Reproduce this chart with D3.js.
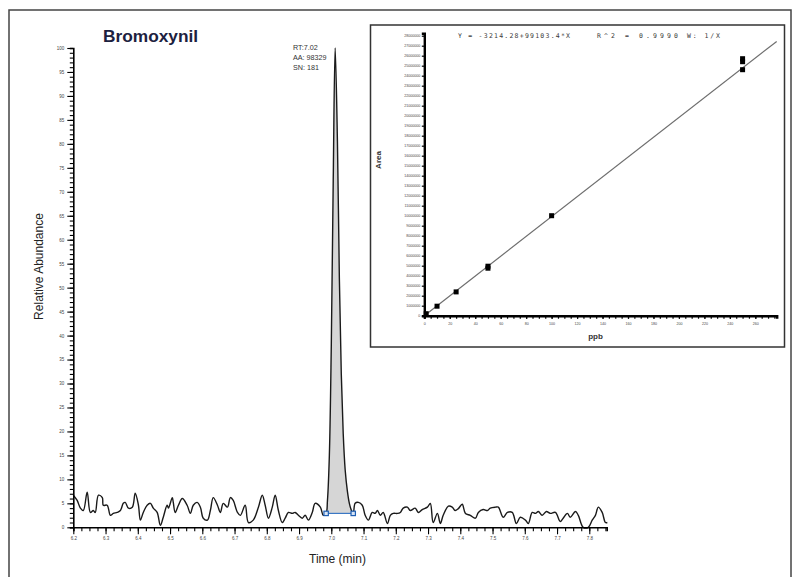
<!DOCTYPE html>
<html lang="en">
<head>
<meta charset="utf-8">
<title>Bromoxynil</title>
<script src="https://d3js.org/d3.v7.min.js"></script>
<style type="text/css">
body { margin: 0; background: #fff; }
svg  { display: block; font-family: "Liberation Sans", Arial, sans-serif; }
.tick text { fill: #444; }
</style>
</head>
<body>
<script type="text/javascript">

// chromatogram trace: retention time (min) and relative abundance (%)
var times = [
6.200,6.212,6.222,6.231,6.243,6.253,6.262,6.268,6.278,6.290,6.293,6.305,6.315,6.324,6.336,6.346,
6.355,6.361,6.371,6.383,6.392,6.402,6.408,6.417,6.429,6.439,6.448,6.460,6.470,6.479,6.491,6.495,
6.507,6.510,6.516,6.526,6.538,6.553,6.563,6.572,6.584,6.594,6.603,6.616,6.625,6.634,6.647,6.656,
6.665,6.678,6.687,6.696,6.709,6.718,6.733,6.743,6.758,6.774,6.786,6.795,6.805,6.817,6.826,6.836,
6.848,6.857,6.867,6.879,6.888,6.898,6.910,6.919,6.929,6.941,6.950,6.966,6.975,6.984,
6.988,6.994,7.000,7.006,7.012,7.019,7.025,7.031,7.037,7.043,7.050,7.056,7.062,7.068,
7.074,7.084,7.096,7.105,7.115,7.127,7.136,7.143,7.152,7.161,7.174,7.183,7.192,7.205,7.214,7.223,
7.236,7.245,7.260,7.270,7.282,7.298,7.307,7.316,7.329,7.338,7.347,7.363,7.375,7.384,7.394,7.406,
7.416,7.431,7.447,7.456,7.471,7.484,7.493,7.509,7.518,7.533,7.546,7.561,7.574,7.586,7.602,7.611,
7.623,7.633,7.642,7.654,7.667,7.679,7.695,7.710,7.719,7.732,7.741,7.757,7.766,7.781,7.797,7.809,
7.819,7.828,7.840,7.850,7.856];
var abundance = [
6.7,5.6,4.0,3.5,7.3,3.1,3.5,3.1,6.7,6.2,4.6,4.6,2.5,2.9,3.1,3.5,
5.0,5.2,4.0,4.2,7.1,4.6,1.5,3.1,4.6,5.0,4.0,3.1,0.4,2.1,4.6,4.0,
6.2,5.2,3.1,4.6,6.0,4.6,2.9,4.6,5.2,4.2,1.9,1.5,3.5,6.2,4.6,3.1,
5.0,4.2,6.2,5.6,3.1,2.5,4.6,1.0,1.5,4.2,6.7,4.6,1.9,4.2,6.7,3.5,
1.0,1.9,3.1,2.9,3.1,2.5,1.9,2.5,1.5,3.1,5.0,4.2,2.5,2.9,
5.5,15.0,38.0,72.3,100,80.6,52.0,32.0,19.5,12.0,7.5,5.0,3.6,2.9,
5.0,5.2,4.6,2.5,1.5,3.1,2.9,3.5,2.5,3.1,0.8,2.5,2.9,2.9,3.1,4.0,
4.2,3.5,4.0,3.1,3.7,4.2,5.0,1.0,2.9,0.8,2.5,4.4,4.2,3.5,3.9,4.8,
2.9,2.5,1.9,3.1,3.7,3.5,4.0,4.2,4.2,2.1,3.1,3.1,0.8,2.1,1.5,0.8,
3.1,2.9,3.3,2.5,3.3,2.9,3.1,1.2,1.9,2.9,2.1,3.3,2.5,0.0,0.0,1.5,
2.5,4.2,3.1,1.0,1.0];

// integrated peak
var peakStart = 6.984, peakEnd = 7.068, peakBase = 2.9;
var peakLabels = ["RT:7.02", "AA: 98329", "SN: 181"];

// chromatogram tick values
var timeTicks = [6.2,6.3,6.4,6.5,6.6,6.7,6.8,6.9,7.0,7.1,7.2,7.3,7.4,7.5,7.6,7.7,7.8];
var abundTicks = [0,5,10,15,20,25,30,35,40,45,50,55,60,65,70,75,80,85,90,95,100];

// calibration inset
var calPpb  = [1.5, 10, 25, 50, 50, 100, 250, 250, 250];
var calArea = [200000, 950000, 2380000, 4950000, 4750000, 10000000, 25700000, 25400000, 24600000];
var fitIntercept = -3214.28, fitSlope = 99103.4;
var ppbTicks = [0,20,40,60,80,100,120,140,160,180,200,220,240,260];
var areaTicks = d3.range(0, 28000001, 1000000);

var svg = d3.select("body").append("svg")
    .attr("width", 794)
    .attr("height", 577);

// outer frame
svg.append("rect")
    .attr("x", 9).attr("y", 10).attr("width", 782).attr("height", 600)
    .attr("fill", "none").attr("stroke", "#444").attr("stroke-width", 1.5);

// ---------- chromatogram ----------
var x = d3.scaleLinear().domain([6.2, 7.854]).range([73.3, 606.7]);
var y = d3.scaleLinear().domain([0, 100]).range([527.3, 48]);

var trace = times.map(function(t, i) { return [t, abundance[i]]; });
var line = d3.line()
    .x(function(d) { return x(d[0]); })
    .y(function(d) { return Math.min(y(d[1]), y(0)); })
    .curve(d3.curveCatmullRom.alpha(0.5));

// peak shading
var peakPts = trace.filter(function(d) { return d[0] >= peakStart - 1e-6 && d[0] <= peakEnd + 1e-6; });
svg.append("path")
    .attr("d", line(peakPts) + "Z")
    .attr("fill", "#d6d6d6")
    .attr("stroke", "none");

svg.append("path")
    .attr("d", line(trace))
    .attr("fill", "none")
    .attr("stroke", "#1a1a1a")
    .attr("stroke-width", 1.4)
    .attr("stroke-linejoin", "round");

// peak baseline and markers
svg.append("line")
    .attr("x1", x(peakStart)).attr("y1", y(peakBase))
    .attr("x2", x(peakEnd)).attr("y2", y(peakBase))
    .attr("stroke", "#3b78c4").attr("stroke-width", 1.2);
svg.selectAll(".pk")
    .data([peakStart, peakEnd])
    .enter().append("rect")
    .attr("class", "pk")
    .attr("x", function(d) { return x(d) - 2.2; })
    .attr("y", y(peakBase) - 2.2)
    .attr("width", 4.4).attr("height", 4.4)
    .attr("fill", "#d7e4f5").attr("stroke", "#1f5fb3").attr("stroke-width", 1.2);

svg.selectAll(".pklabel")
    .data(peakLabels)
    .enter().append("text")
    .attr("class", "pklabel")
    .attr("x", 293)
    .attr("y", function(d, i) { return 49.5 + i * 10; })
    .attr("font-size", 7.2)
    .attr("fill", "#333")
    .text(function(d) { return d; });

// axes
var xMinor = d3.axisBottom(x).tickValues(d3.range(0, 67).map(function(i) { return 6.2 + i * 0.025; }))
    .tickSize(4).tickFormat("");
var xMajor = d3.axisBottom(x).tickValues(timeTicks).tickSize(7).tickPadding(3)
    .tickFormat(d3.format(".1f"));
var gx = svg.append("g").attr("transform", "translate(0,527.3)");
gx.call(xMinor);
gx.append("g").call(xMajor).select(".domain").remove();

var yMinor = d3.axisLeft(y).tickValues(d3.range(0, 101)).tickSize(3.5).tickFormat("");
var yMajor = d3.axisLeft(y).tickValues(abundTicks).tickSize(6).tickPadding(3);
var gy = svg.append("g").attr("transform", "translate(73.3,0)");
gy.call(yMinor);
gy.append("g").call(yMajor).select(".domain").remove();

[gx, gy].forEach(function(g) {
    g.selectAll("path.domain").attr("stroke", "#000").attr("stroke-width", 1.6);
    g.selectAll(".tick line").attr("stroke", "#000").attr("stroke-width", 1.1);
    g.selectAll(".tick text").attr("font-size", 4.5).attr("font-family", "Liberation Sans, Arial");
});

svg.append("text")
    .attr("x", 337.5).attr("y", 563)
    .attr("text-anchor", "middle")
    .attr("font-size", 12).attr("fill", "#222")
    .text("Time (min)");

svg.append("text")
    .attr("transform", "translate(42.5,266.5) rotate(-90)")
    .attr("text-anchor", "middle")
    .attr("font-size", 12).attr("fill", "#222")
    .text("Relative Abundance");

svg.append("text")
    .attr("x", 103).attr("y", 42)
    .attr("font-size", 17.3).attr("font-weight", "bold")
    .attr("fill", "#1c2140")
    .text("Bromoxynil");

// ---------- calibration inset ----------
svg.append("rect")
    .attr("x", 370.5).attr("y", 25).attr("width", 414).attr("height", 322)
    .attr("fill", "#fff").attr("stroke", "#333").attr("stroke-width", 1.5);

var cx = d3.scaleLinear().domain([0, 276.8]).range([424.3, 776.7]);
var cy = d3.scaleLinear().domain([0, 28240000]).range([315.7, 33.3]);

svg.append("line")
    .attr("x1", cx(0)).attr("y1", cy(fitIntercept))
    .attr("x2", cx(276.8)).attr("y2", cy(fitIntercept + fitSlope * 276.8))
    .attr("stroke", "#6e6e6e").attr("stroke-width", 1.2);

svg.selectAll(".cal")
    .data(calPpb)
    .enter().append("rect")
    .attr("class", "cal")
    .attr("x", function(d) { return cx(d) - 2.5; })
    .attr("y", function(d, i) { return cy(calArea[i]) - 2.5; })
    .attr("width", 5).attr("height", 5)
    .attr("fill", "#000");

var cxMinor = d3.axisBottom(cx).tickValues(d3.range(0, 276, 5)).tickSize(3).tickFormat("");
var cxMajor = d3.axisBottom(cx).tickValues(ppbTicks).tickSize(3).tickPadding(4).tickFormat(d3.format("d"));
var gcx = svg.append("g").attr("transform", "translate(0,315.7)");
gcx.call(cxMinor);
gcx.append("g").call(cxMajor).select(".domain").remove();

var cyAxis = d3.axisLeft(cy).tickValues(areaTicks).tickSize(2.5).tickPadding(1.5)
    .tickFormat(function(d) { return d === 0 ? "0" : String(d); });
var gcy = svg.append("g").attr("transform", "translate(424.3,0)");
gcy.call(cyAxis);

[gcx, gcy].forEach(function(g) {
    g.selectAll("path.domain").attr("stroke", "#000").attr("stroke-width", 2.4);
    g.selectAll(".tick line").attr("stroke", "#000").attr("stroke-width", 1.2);
    g.selectAll(".tick text").attr("font-size", 3.6).attr("fill", "#666");
});

svg.append("text")
    .attr("transform", "translate(381,160) rotate(-90)")
    .attr("text-anchor", "middle")
    .attr("font-size", 8).attr("font-weight", "bold").attr("fill", "#333")
    .text("Area");

svg.append("text")
    .attr("x", 595.5).attr("y", 338.5)
    .attr("text-anchor", "middle")
    .attr("font-size", 8).attr("font-weight", "bold").attr("fill", "#333")
    .text("ppb");

var eqParts = [
    { s: "Y = -3214.28+99103.4*X", x: 458, w: 112 },
    { s: "R^2 = 0.9990", x: 597, w: 81 },
    { s: "W: 1/X", x: 687, w: 33 }
];
svg.selectAll(".eq")
    .data(eqParts)
    .enter().append("text")
    .attr("class", "eq")
    .attr("x", function(d) { return d.x; })
    .attr("y", 37.8)
    .attr("textLength", function(d) { return d.w; })
    .attr("lengthAdjust", "spacing")
    .attr("font-family", "DejaVu Sans Mono, monospace")
    .attr("font-size", 6.5).attr("fill", "#3a3a3a")
    .text(function(d) { return d.s; });

</script>
</body>
</html>
